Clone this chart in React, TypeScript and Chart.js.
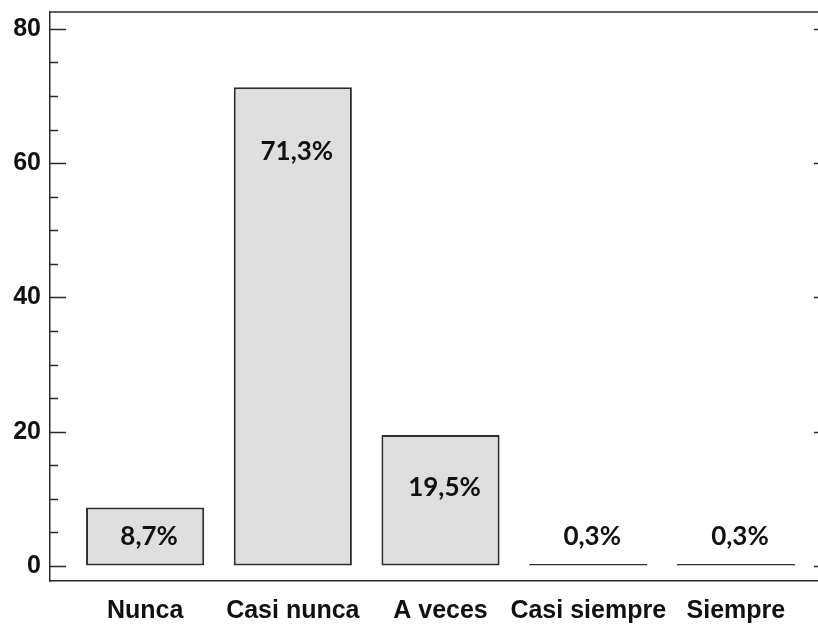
import React, { useEffect, useRef } from "react";
import { Chart, registerables } from "chart.js";

Chart.register(...registerables);

const categories = ["Nunca", "Casi nunca", "A veces", "Casi siempre", "Siempre"];
const values = [8.7, 71.3, 19.5, 0.3, 0.3];
const valueLabels = ["8,7%", "71,3%", "19,5%", "0,3%", "0,3%"];
const yTicks = [0, 20, 40, 60, 80];
const yMinorStep = 5;

const LINE = "#2a2a2a";

const framePlugin = {
  id: "frame",
  afterDraw(chart: any) {
    const { ctx, chartArea } = chart;
    const { left, right, top, bottom } = chartArea;
    const y = chart.scales.y;
    ctx.save();
    ctx.strokeStyle = LINE;
    ctx.lineWidth = 1.5;
    ctx.beginPath();
    ctx.moveTo(left, top);
    ctx.lineTo(right, top);
    ctx.lineTo(right, bottom);
    ctx.stroke();
    for (let v = 0; v <= yTicks[yTicks.length - 1]; v += yMinorStep) {
      const py = Math.round(y.getPixelForValue(v)) + 0.5;
      const len = yTicks.includes(v) ? 16 : 8;
      ctx.beginPath();
      ctx.moveTo(left, py);
      ctx.lineTo(left + len, py);
      ctx.moveTo(right, py);
      ctx.lineTo(right - len, py);
      ctx.stroke();
    }
    ctx.restore();
  },
};

const labelPlugin = {
  id: "valueLabels",
  afterDatasetsDraw(chart: any) {
    const { ctx } = chart;
    const meta = chart.getDatasetMeta(0);
    ctx.save();
    ctx.font = "bold 26px Lato";
    ctx.fillStyle = "#111";
    ctx.textAlign = "center";
    ctx.textBaseline = "middle";
    meta.data.forEach((el: any, i: number) => {
      const h = el.base - el.y;
      let ly: number;
      if (h > 100) ly = el.y + Math.min(64, h * 0.405);
      else if (h > 30) ly = (el.y + el.base) / 2;
      else ly = el.base - 29;
      ctx.fillText(valueLabels[i], el.x + 4, ly);
    });
    ctx.restore();
  },
};

export default function App() {
  const ref = useRef<HTMLCanvasElement>(null);

  useEffect(() => {
    if (!ref.current) return;
    const chart = new Chart(ref.current, {
      type: "bar",
      data: {
        datasets: [
          {
            data: values.map((v, i) => ({ x: i + 1, y: v })),
            backgroundColor: "#dedede",
            borderColor: "#2e2e2e",
            borderWidth: 2,
            borderSkipped: false,
            barPercentage: 0.8,
            categoryPercentage: 1,
          },
        ],
      },
      options: {
        animation: false,
        responsive: true,
        maintainAspectRatio: false,
        layout: { padding: { top: 12, right: 0, left: 0, bottom: 0 } },
        plugins: { legend: { display: false }, tooltip: { enabled: false } },
        scales: {
          x: {
            type: "linear",
            offset: false,
            min: 0.356,
            max: 5.637,
            afterBuildTicks: (s: any) => {
              s.ticks = categories.map((_, i) => ({ value: i + 1 }));
            },
            afterFit: (s: any) => {
              s.height = 43;
              s.paddingLeft = 0;
              s.paddingRight = 0;
            },
            ticks: {
              autoSkip: false,
              maxRotation: 0,
              padding: 15,
              color: "#111",
              font: { family: "Liberation Sans", weight: "bold", size: 25 },
              callback: (v: any) => categories[Number(v) - 1] ?? "",
            },
            grid: { display: true, drawOnChartArea: false, drawTicks: false },
            border: { display: true, color: LINE, width: 1.5 },
          },
          y: {
            type: "linear",
            min: -2.24,
            max: 82.5,
            afterBuildTicks: (s: any) => {
              s.ticks = yTicks.map((v) => ({ value: v }));
            },
            afterFit: (s: any) => {
              s.width = 50;
              s.paddingTop = 0;
              s.paddingBottom = 0;
            },
            ticks: {
              padding: 9,
              color: "#111",
              font: { family: "Liberation Sans", weight: "bold", size: 25 },
            },
            grid: { display: true, drawOnChartArea: false, drawTicks: false },
            border: { display: true, color: LINE, width: 1.5 },
          },
        },
      },
      plugins: [framePlugin, labelPlugin],
    } as any);
    return () => chart.destroy();
  }, []);

  return (
    <div
      style={{
        position: "absolute",
        left: 0,
        top: 0,
        width: 818,
        height: 624,
        overflow: "hidden",
        background: "#fff",
      }}
    >
      <div style={{ position: "relative", width: 830, height: 624 }}>
        <canvas ref={ref} />
      </div>
    </div>
  );
}
